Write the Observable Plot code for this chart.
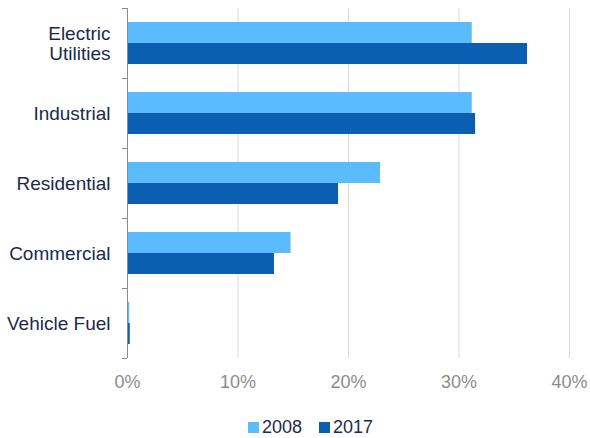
<!DOCTYPE html>
<html>
<head>
<meta charset="utf-8">
<script src="https://cdn.jsdelivr.net/npm/d3@7"></script>
<script src="https://cdn.jsdelivr.net/npm/@observablehq/plot@0.6"></script>
<style>
  html, body { margin: 0; padding: 0; background: #fff; }
  #wrap { position: relative; width: 590px; height: 438px; font-family: "Liberation Sans", Arial, sans-serif; }
  #legend { position: absolute; left: 248px; top: 417px; display: flex; align-items: center; font-size: 18px; color: #1c2b4b; line-height: 20px; }
  #legend .item { display: flex; align-items: center; margin-right: 17px; }
  #legend .sw { width: 11px; height: 11px; margin-right: 3px; }
</style>
</head>
<body>
<div id="wrap">
  <div id="chart"></div>
  <div id="legend"></div>
</div>
<script>
const categories = ["Electric Utilities", "Industrial", "Residential", "Commercial", "Vehicle Fuel"];
const labels = ["Electric\nUtilities", "Industrial", "Residential", "Commercial", "Vehicle Fuel"];
const years = ["2008", "2017"];
const share2008 = [31.2, 31.2, 22.9, 14.8, 0.2];
const share2017 = [36.2, 31.5, 19.1, 13.3, 0.25];
const xTicks = [0, 10, 20, 30, 40];
const colors = ["#5bbcfd", "#0b5eb1"];

const data = [];
categories.forEach((c, i) => {
  data.push({category: c, year: years[0], value: share2008[i]});
  data.push({category: c, year: years[1], value: share2017[i]});
});

const marginTop = 8, marginBottom = 42, height = 400;
const plotH = height - marginTop - marginBottom;
const bandH = plotH / categories.length;

const chart = Plot.plot({
  width: 590,
  height,
  marginTop,
  marginBottom,
  marginLeft: 127,
  marginRight: 21,
  style: {fontFamily: "'Liberation Sans', Arial, sans-serif", fontSize: "18px", background: "#fff"},
  x: {domain: [0, 40], label: null},
  y: {domain: years, axis: null, paddingInner: 0, paddingOuter: 0.63},
  fy: {domain: categories, padding: 0, label: null},
  color: {domain: years, range: colors},
  marks: [
    Plot.gridX(xTicks.slice(1), {stroke: "#d9d9d9", strokeOpacity: 1, strokeWidth: 1}),
    Plot.barX(data, {fy: "category", y: "year", x: "value", fill: "year"}),
    Plot.ruleX([0], {stroke: "#8c8c8c", strokeWidth: 1}),
    Plot.axisX(xTicks, {anchor: "bottom", label: null, tickSize: 0, tickPadding: 17, tickFormat: d => d + "%", color: "#8c8c8c", fontSize: 18}),
    Plot.axisFy({anchor: "left", label: null, tickSize: 0, tickPadding: 17, tickFormat: d => labels[categories.indexOf(d)], fill: "#1b2a4c", fontSize: 19, lineHeight: 1.09}),
    Plot.axisFy({anchor: "left", label: null, tickSize: 5, tickFormat: () => "", stroke: "#8c8c8c", dy: -bandH / 2}),
    Plot.axisFy([categories[categories.length - 1]], {anchor: "left", label: null, tickSize: 5, tickFormat: () => "", stroke: "#8c8c8c", dy: bandH / 2})
  ]
});
document.getElementById("chart").appendChild(chart);

const legend = document.getElementById("legend");
years.forEach((y, i) => {
  const item = document.createElement("div");
  item.className = "item";
  const sw = document.createElement("div");
  sw.className = "sw";
  sw.style.background = colors[i];
  const t = document.createElement("span");
  t.textContent = y;
  item.appendChild(sw);
  item.appendChild(t);
  legend.appendChild(item);
});
</script>
</body>
</html>
